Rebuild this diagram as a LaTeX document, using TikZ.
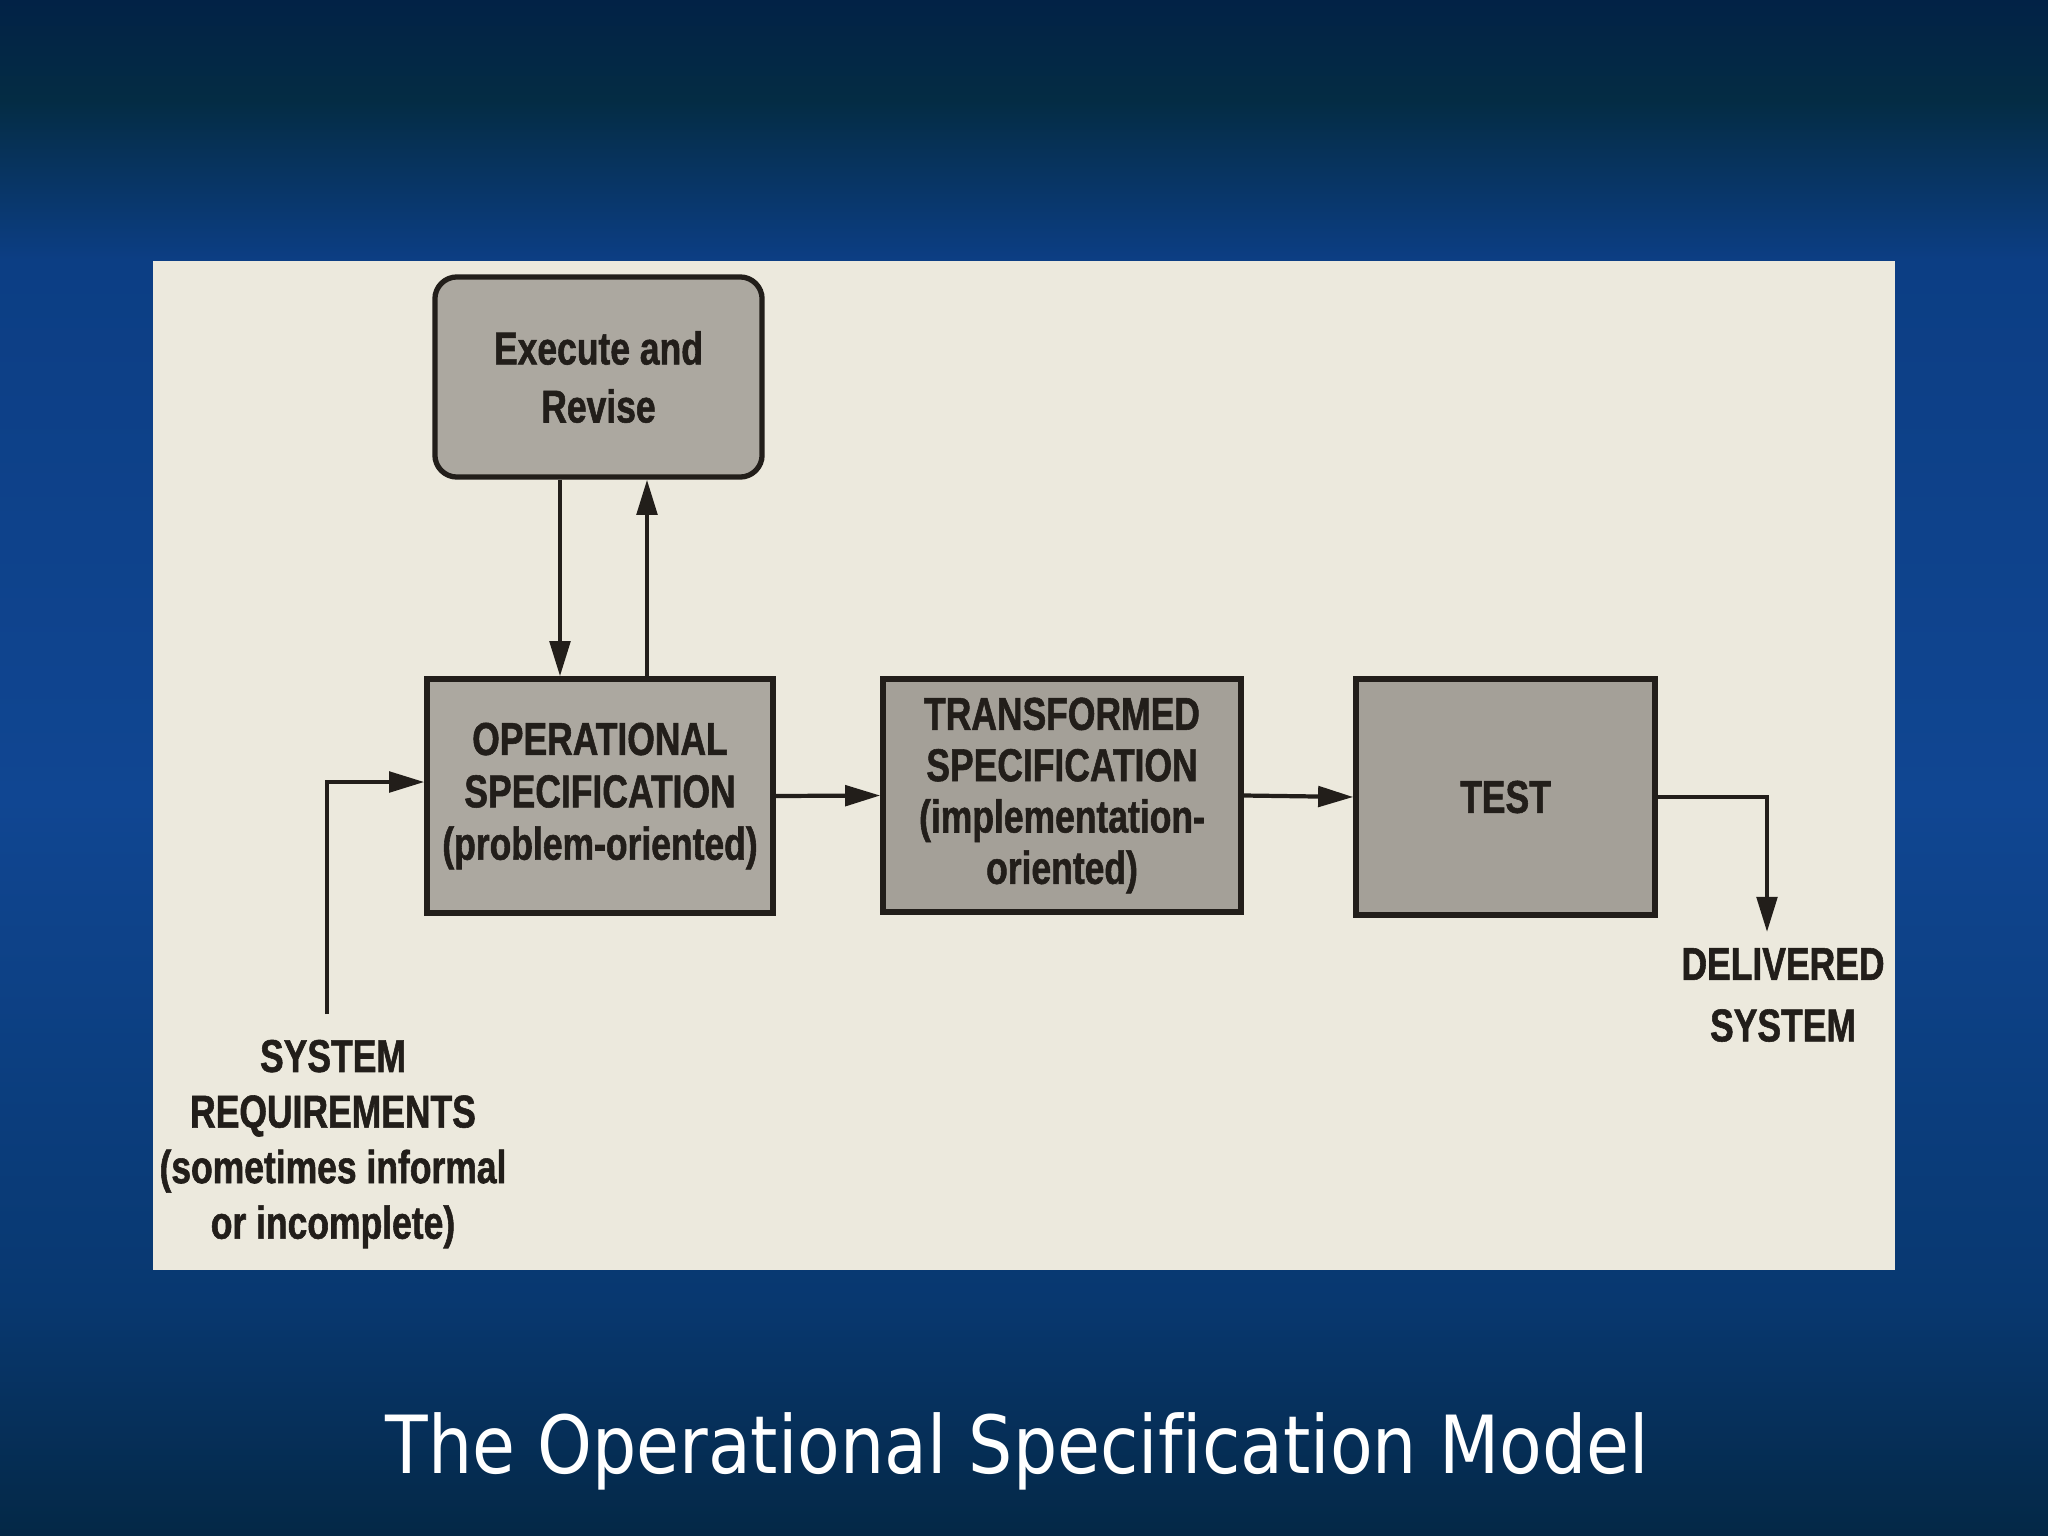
\documentclass[tikz,border=0pt]{standalone}
\usepackage{fontspec}
\usetikzlibrary{arrows.meta}
\newfontfamily\diafont[FakeStretch=0.77,FakeBold=1.2]{Liberation Sans}
\newfontfamily\titlefont[FakeStretch=0.87,Ligatures=NoCommon]{DejaVu Sans}
\definecolor{bgA}{RGB}{2,34,70}
\definecolor{bgB}{RGB}{4,44,68}
\definecolor{bgC}{RGB}{12,62,132}
\definecolor{bgD}{RGB}{16,70,146}
\definecolor{bgE}{RGB}{8,56,112}
\definecolor{bgF}{RGB}{4,40,70}
\definecolor{paper}{RGB}{236,233,221}
\definecolor{boxfill}{RGB}{172,168,160}
\definecolor{boxfillB}{RGB}{164,160,152}
\definecolor{ink}{RGB}{34,30,26}
\tikzset{
  box/.style={draw=ink, line width=1.5pt, fill=boxfill, text=ink, align=center, inner sep=0pt},
  lbl/.style={text=ink, align=center, inner sep=0pt},
  arr/.style={draw=ink, line width=1.2pt, -{Triangle[length=10pt,width=5.8pt]}},
}
\begin{document}
\begin{tikzpicture}[x=0.01cm, y=-0.01cm]
\useasboundingbox (0,0) rectangle (2048,1536);
% background
\fill[top color=bgA, bottom color=bgB] (0,0) rectangle (2048,100);
\fill[top color=bgB, bottom color=bgC] (0,100) rectangle (2048,260);
\fill[top color=bgC, bottom color=bgD] (0,260) rectangle (2048,800);
\fill[top color=bgD, bottom color=bgE] (0,800) rectangle (2048,1300);
\fill[top color=bgE, bottom color=bgF] (0,1300) rectangle (2048,1536);
% scanned panel
\fill[paper] (153,261) rectangle (1895,1270);
% boxes
\node[box, rounded corners=0.22cm, minimum width=3.27cm, minimum height=2.0cm,
      font=\diafont\bfseries\fontsize{13.1}{16.5}\selectfont] (exec) at (598.5,377) {Execute and\\Revise};
\node[box, minimum width=3.46cm, minimum height=2.34cm,
      font=\diafont\bfseries\fontsize{13.1}{14.9}\selectfont] (op) at (600,796) {OPERATIONAL\\SPECIFICATION\\(problem-oriented)};
\node[box, fill=boxfillB, minimum width=3.58cm, minimum height=2.33cm,
      font=\diafont\bfseries\fontsize{13.1}{14.6}\selectfont] (trans) at (1062,795.5) {TRANSFORMED\\SPECIFICATION\\(implementation-\\oriented)};
\node[box, fill=boxfillB, minimum width=2.99cm, minimum height=2.36cm,
      font=\diafont\bfseries\fontsize{13.1}{14.9}\selectfont] (test) at (1505.5,797) {TEST};
% labels
\node[lbl, font=\diafont\bfseries\fontsize{13.1}{15.8}\selectfont] (sysreq) at (333,1144) {SYSTEM\\REQUIREMENTS\\(sometimes informal\\or incomplete)};
\node[lbl, font=\diafont\bfseries\fontsize{13.1}{17.5}\selectfont] (deliv) at (1783,995) {DELIVERED\\SYSTEM};
% connectors
\coordinate (dn) at (560,0);
\coordinate (upx) at (647,0);
\coordinate (inlev) at (0,782);
\coordinate (srtop) at (327,1014);
\coordinate (dlend) at (1767,932);
\draw[arr] (exec.south -| dn) -- (op.north -| dn);
\draw[arr] (op.north -| upx) -- (exec.south -| upx);
\draw[arr] (srtop) |- (op.west |- inlev);
\draw[arr] (op.east) -- (trans.west);
\draw[arr] (trans.east) -- (test.west);
\draw[arr] (test.east) -| (dlend);
% title
\node[anchor=base, text=white, inner sep=0pt, font=\titlefont\fontsize{22.8}{27}\selectfont] (title) at (1017,1473) {The Operational Specification Model};
\end{tikzpicture}
\end{document}
